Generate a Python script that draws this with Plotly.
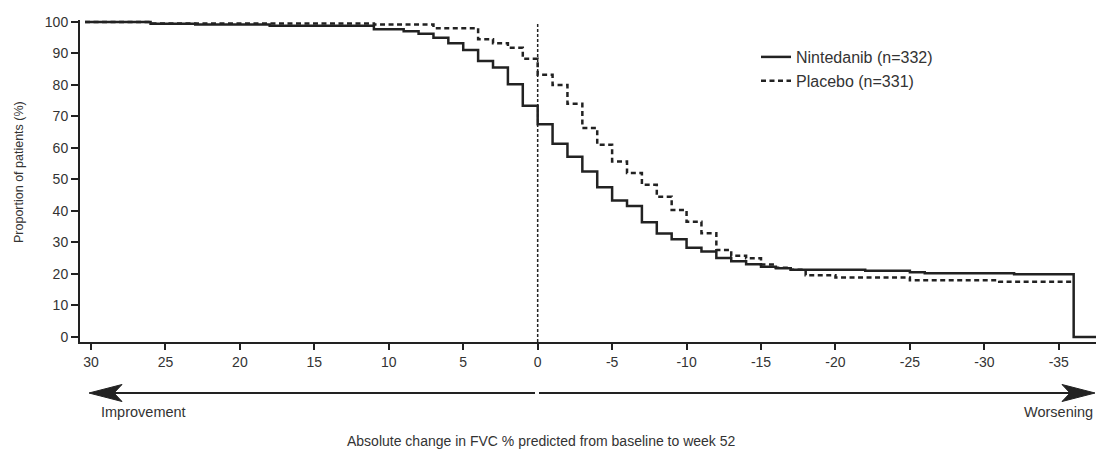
import plotly.graph_objects as go

# ---------------- data ----------------
x_tick_vals = [30, 25, 20, 15, 10, 5, 0, -5, -10, -15, -20, -25, -30, -35]
x_tick_text = ["30", "25", "20", "15", "10", "5", "0", "-5", "-10", "-15", "-20", "-25", "-30", "-35"]
y_tick_vals = [0, 10, 20, 30, 40, 50, 60, 70, 80, 90, 100]

# step curves: value holds from each x to the next (going right = worsening)
nintedanib_x = [30.4, 26, 23, 18, 11, 9, 8, 7, 6, 5, 4, 3, 2, 1, 0,
                -1, -2, -3, -4, -5, -6, -7, -8, -9, -10, -11, -12, -13, -14, -15, -16, -17,
                -22, -25, -26, -32, -36, -37.5]
nintedanib_y = [100, 99.4, 99.2, 98.8, 97.7, 97.0, 96.2, 95.0, 93.2, 91.1, 87.6, 85.5, 80.2, 73.4, 67.5,
                61.3, 57.2, 52.5, 47.5, 43.3, 41.6, 36.4, 32.8, 31.0, 28.3, 27.1, 25.1, 24.0, 23.1, 22.3, 21.8, 21.3,
                21.0, 20.5, 20.2, 19.9, 0, 0]

placebo_x = [30.4, 26, 11, 7, 4, 3, 2, 1, 0,
             -1, -2, -3, -4, -5, -6, -7, -8, -9, -10, -11, -12, -13, -14, -15, -16, -17,
             -18, -20, -25, -31, -36]
placebo_y = [100, 99.5, 99.2, 98.0, 94.5, 93.2, 91.8, 88.3, 83.2,
             80.0, 74.0, 66.3, 61.0, 55.7, 52.0, 48.3, 44.5, 40.3, 36.6, 32.9, 27.6, 25.8, 25.0, 23.0, 22.0, 21.3,
             19.6, 18.9, 18.0, 17.5, 17.5]

series_names = ["Nintedanib (n=332)", "Placebo (n=331)"]

x_title = "Absolute change in FVC % predicted from baseline to week 52"
y_title = "Proportion of patients (%)"
left_label = "Improvement"
right_label = "Worsening"

# ---------------- layout helpers ----------------
W, H = 1096, 452
ML, MR, MT, MB = 80, 0, 20, 110
PW, PH = W - ML - MR, H - MT - MB
def px_x(p):
    return (p - ML) / PW
def px_y(p):
    return (H - MB - p) / PH

LINE = "#222222"
TEXT = "#333333"
FONT = "Liberation Sans, Arial, sans-serif"

fig = go.Figure()
fig.add_trace(go.Scatter(x=nintedanib_x, y=nintedanib_y, mode="lines", name=series_names[0],
                         line=dict(color=LINE, width=2.5, shape="hv")))
fig.add_trace(go.Scatter(x=placebo_x, y=placebo_y, mode="lines", name=series_names[1],
                         line=dict(color=LINE, width=2.5, shape="hv", dash="5px,3.5px")))

shapes = []
# vertical reference line at 0
shapes.append(dict(type="line", xref="x", yref="y", x0=0, x1=0, y0=-1.6, y1=100,
                   line=dict(color=LINE, width=1.5, dash="3px,2px"), layer="below"))
# double arrow below axis
ay = px_y(393)
shapes.append(dict(type="line", xref="paper", yref="paper", x0=px_x(112), x1=px_x(535), y0=ay, y1=ay,
                   line=dict(color=LINE, width=2)))
shapes.append(dict(type="line", xref="paper", yref="paper", x0=px_x(539), x1=px_x(1070), y0=ay, y1=ay,
                   line=dict(color=LINE, width=2)))
def head(tip, base, notch):
    return (f"M{px_x(tip)},{px_y(393)} L{px_x(base)},{px_y(384.5)} "
            f"L{px_x(notch)},{px_y(393)} L{px_x(base)},{px_y(401.5)} Z")
shapes.append(dict(type="path", xref="paper", yref="paper", path=head(89, 122, 114),
                   fillcolor=LINE, line=dict(color=LINE, width=1)))
shapes.append(dict(type="path", xref="paper", yref="paper", path=head(1095, 1062, 1070),
                   fillcolor=LINE, line=dict(color=LINE, width=1)))

annotations = [
    dict(text=left_label, xref="paper", yref="paper", x=px_x(99), y=px_y(412), xanchor="left",
         yanchor="middle", showarrow=False, font=dict(size=14.5, color=TEXT, family=FONT)),
    dict(text=right_label, xref="paper", yref="paper", x=px_x(1095), y=px_y(412), xanchor="right",
         yanchor="middle", showarrow=False, font=dict(size=14.5, color=TEXT, family=FONT)),
    dict(text=x_title, xref="paper", yref="paper", x=px_x(541), y=px_y(441), xanchor="center",
         yanchor="middle", showarrow=False, font=dict(size=14, color=TEXT, family=FONT)),
    dict(text=y_title, xref="paper", yref="paper", x=px_x(19), y=px_y(172), xanchor="center",
         yanchor="middle", showarrow=False, textangle=-90, font=dict(size=12.5, color=TEXT, family=FONT)),
]

fig.update_layout(
    width=W, height=H,
    margin=dict(l=ML, r=MR, t=MT, b=MB, pad=0),
    paper_bgcolor="white", plot_bgcolor="white",
    font=dict(family=FONT, color=TEXT, size=13),
    showlegend=True,
    legend=dict(x=px_x(756), y=px_y(40), xanchor="left", yanchor="top",
                bgcolor="rgba(0,0,0,0)", font=dict(size=16, color=TEXT, family=FONT),
                itemwidth=30, tracegroupgap=0),
    shapes=shapes,
    annotations=annotations,
    xaxis=dict(range=[30.74, -37.5], tickvals=x_tick_vals, ticktext=x_tick_text,
               showgrid=False, zeroline=False, showline=True, linecolor=LINE, linewidth=2,
               ticks="outside", ticklen=6, tickwidth=2, tickcolor=LINE,
               tickfont=dict(size=14, color=TEXT, family=FONT)),
    yaxis=dict(range=[-1.6, 100.6], tickvals=y_tick_vals,
               showgrid=False, zeroline=False, showline=True, linecolor=LINE, linewidth=2,
               ticks="outside", ticklen=7, tickwidth=2, tickcolor=LINE,
               tickfont=dict(size=14, color=TEXT, family=FONT)),
)

fig.write_html("out.html", config={"displayModeBar": False},
               post_script="document.body.style.margin='0px';document.body.style.overflow='hidden';")
